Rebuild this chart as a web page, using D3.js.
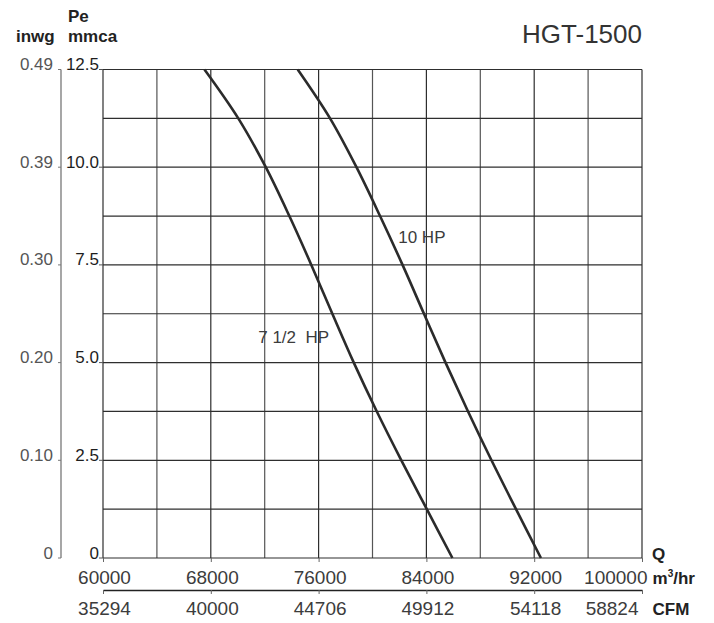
<!DOCTYPE html>
<html>
<head>
<meta charset="utf-8">
<script src="https://cdn.jsdelivr.net/npm/d3@7/dist/d3.min.js"></script>
<style>
  html, body { margin: 0; padding: 0; background: #fff; }
  svg { display: block; font-family: "Liberation Sans", Arial, sans-serif; }
</style>
</head>
<body>
<svg id="chart" width="714" height="623"></svg>
<script>
// ---- data ----
const title = "HGT-1500";
const qTickValues = [60000, 68000, 76000, 84000, 92000, 100000];
const qTickLabels = ["60000", "68000", "76000", "84000", "92000", "100000"];
const cfmTickLabels = ["35294", "40000", "44706", "49912", "54118", "58824"];
const pTickValues = [0, 2.5, 5, 7.5, 10, 12.5];
const mmcaTickLabels = ["0", "2.5", "5.0", "7.5", "10.0", "12.5"];
const inwgTickLabels = ["0", "0.10", "0.20", "0.30", "0.39", "0.49"];
const qGridStep = 4000;
const pGridStep = 1.25;

const series75Name = "7 1/2  HP";
const series75Q = [67530, 70040, 72080, 73830, 75460, 77020, 78610, 80320, 82140, 84030, 85930];
const series75P = [12.5, 11.25, 10.0, 8.75, 7.5, 6.25, 5.0, 3.75, 2.5, 1.25, 0];

const series10Name = "10 HP";
const series10Q = [74450, 76850, 78810, 80560, 82230, 83820, 85420, 87090, 88830, 90650, 92500];
const series10P = [12.5, 11.25, 10.0, 8.75, 7.5, 6.25, 5.0, 3.75, 2.5, 1.25, 0];

// ---- layout ----
const svg = d3.select("#chart");
const pL = 103, pR = 642, pT = 69.5, pB = 558;
const x = d3.scaleLinear().domain([60000, 100000]).range([pL, pR]);
const y = d3.scaleLinear().domain([0, 12.5]).range([pB, pT]);

const gridColor = "#2e2e2e";
const textColor = "#3c3c3c";
const lastIdx = qTickValues.length - 1;

// grid
const qGrid = d3.range(60000, 100000 + 1, qGridStep);
const pGrid = d3.range(0, 12.5 + 0.001, pGridStep);
const g = svg.append("g");
g.selectAll("line.v").data(qGrid).join("line")
  .attr("x1", d => x(d)).attr("x2", d => x(d))
  .attr("y1", y(12.5)).attr("y2", y(0))
  .attr("stroke", (d, i) => i % 2 ? "#555" : gridColor)
  .attr("stroke-width", 1.2);
g.selectAll("line.h").data(pGrid).join("line")
  .attr("x1", x(60000)).attr("x2", x(100000))
  .attr("y1", d => y(d)).attr("y2", d => y(d))
  .attr("stroke", gridColor).attr("stroke-width", 1.2);

// bottom Q axis (m3/hr)
const xAxis = d3.axisBottom(x).tickValues(qTickValues)
  .tickFormat((d, i) => qTickLabels[i]).tickSize(4).tickPadding(9);
const gx = svg.append("g").attr("transform", `translate(0,${pB})`).call(xAxis);
gx.select(".domain").remove();
gx.selectAll(".tick line").attr("stroke", "#666");
gx.selectAll(".tick text").attr("fill", textColor).style("font-size", "19px")
  .attr("font-family", "Liberation Sans, Arial, sans-serif")
  .attr("text-anchor", (d, i) => i === lastIdx ? "end" : "middle")
  .attr("dx", (d, i) => i === lastIdx ? 5 : 1);

// CFM axis
const cfmY = 590;
const xAxis2 = d3.axisBottom(x).tickValues(qTickValues)
  .tickFormat((d, i) => cfmTickLabels[i]).tickSize(4).tickSizeOuter(0).tickPadding(8);
const gx2 = svg.append("g").attr("transform", `translate(0,${cfmY})`).call(xAxis2);
gx2.select(".domain").attr("stroke", "#222").attr("stroke-width", 1.3);
gx2.selectAll(".tick line").attr("stroke", "#666");
gx2.selectAll(".tick text").attr("fill", textColor).style("font-size", "19px")
  .attr("font-family", "Liberation Sans, Arial, sans-serif")
  .attr("text-anchor", (d, i) => i === lastIdx ? "end" : "middle")
  .attr("dx", (d, i) => i === lastIdx ? -4 : 1);

// mmca axis labels (baseline at gridline)
const ymm = svg.append("g");
ymm.selectAll("line").data(pTickValues).join("line")
  .attr("x1", pL - 4).attr("x2", pL).attr("y1", d => y(d)).attr("y2", d => y(d))
  .attr("stroke", "#555").attr("stroke-width", 1);
ymm.selectAll("text").data(pTickValues).join("text")
  .attr("x", pL - 4).attr("y", d => y(d) + 0.5)
  .attr("text-anchor", "end").attr("fill", "#1e1e1e").style("font-size", "17px")
  .text((d, i) => mmcaTickLabels[i]);

// inwg axis
const inX = 61;
const yin = svg.append("g");
yin.append("line").attr("x1", inX).attr("x2", inX).attr("y1", y(12.5)).attr("y2", y(0))
  .attr("stroke", "#777").attr("stroke-width", 1.3);
yin.selectAll("line.t").data(pTickValues).join("line")
  .attr("class", "t")
  .attr("x1", inX - 3).attr("x2", inX).attr("y1", d => y(d)).attr("y2", d => y(d))
  .attr("stroke", "#777").attr("stroke-width", 1);
yin.selectAll("text").data(pTickValues).join("text")
  .attr("x", inX - 8).attr("y", d => y(d) + 0.5)
  .attr("text-anchor", "end").attr("fill", "#555").style("font-size", "17px")
  .text((d, i) => inwgTickLabels[i]);

// curves
const line = d3.line().x(d => x(d[0])).y(d => y(d[1])).curve(d3.curveCatmullRom.alpha(0.5));
const s75 = series75Q.map((q, i) => [q, series75P[i]]);
const s10 = series10Q.map((q, i) => [q, series10P[i]]);
[s75, s10].forEach(s => {
  svg.append("path").attr("d", line(s)).attr("fill", "none")
    .attr("stroke", "#2b2b2b").attr("stroke-width", 2.6).attr("stroke-linejoin", "round");
});

// series labels
svg.append("text").attr("x", x(81910)).attr("y", y(8.05)).attr("fill", textColor)
  .style("font-size", "17px").text(series10Name);
svg.append("text").attr("x", x(71520)).attr("y", y(5.51)).attr("fill", textColor)
  .style("font-size", "17px").style("white-space", "pre").attr("xml:space", "preserve").text(series75Name);

// title
svg.append("text").attr("x", pR).attr("y", 42.5).attr("text-anchor", "end")
  .attr("fill", "#333").style("font-size", "26px").text(title);

// axis titles
const bold = (tx, ty, txt, anchor) => svg.append("text").attr("x", tx).attr("y", ty)
  .attr("text-anchor", anchor || "start").attr("fill", "#222")
  .style("font-size", "17px").style("font-weight", "bold").text(txt);
bold(68, 21.5, "Pe");
bold(16, 42.3, "inwg");
bold(68, 42.3, "mmca");
bold(652, 560, "Q");
const mt = bold(652.5, 583.5, "m");
mt.append("tspan").attr("dy", -7).style("font-size", "10px").text("3");
mt.append("tspan").attr("dy", 7).text("/hr");
bold(652.5, 615, "CFM");
</script>
</body>
</html>
